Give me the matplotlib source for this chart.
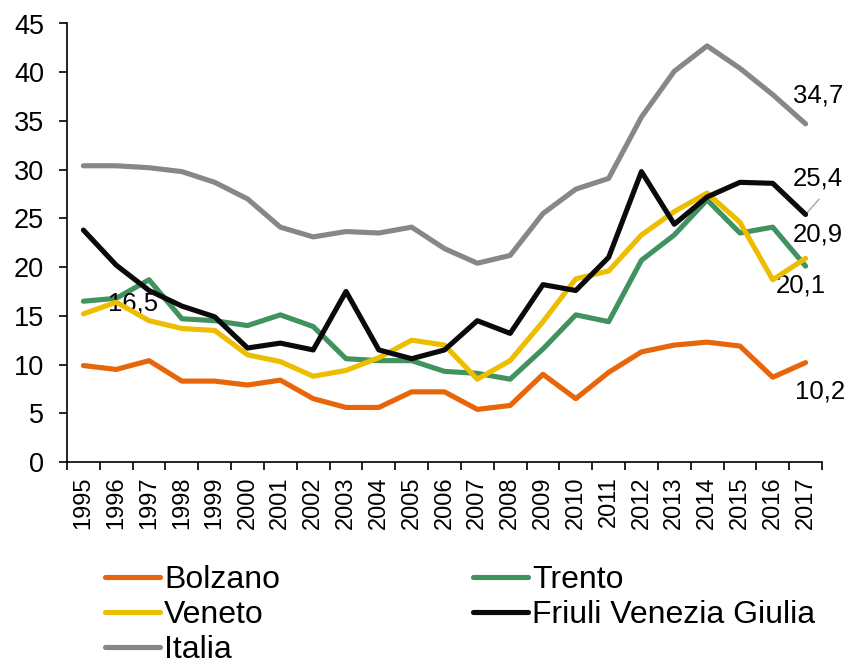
import matplotlib
matplotlib.use("Agg")
import matplotlib.pyplot as plt
import numpy as np

plt.rcParams["font.family"] = ["Liberation Sans", "DejaVu Sans"]

# ── Data ──────────────────────────────────────────────────────────────────────
years = [str(y) for y in range(1995, 2018)]

bolzano = [9.9, 9.5, 10.4, 8.3, 8.3, 7.9, 8.4, 6.5, 5.6, 5.6, 7.2, 7.2,
           5.4, 5.8, 9.0, 6.5, 9.2, 11.3, 12.0, 12.3, 11.9, 8.7, 10.2]
trento = [16.5, 16.8, 18.7, 14.7, 14.5, 14.0, 15.1, 13.9, 10.6, 10.4, 10.4, 9.3,
          9.1, 8.5, 11.6, 15.1, 14.4, 20.7, 23.3, 26.9, 23.5, 24.1, 20.1]
veneto = [15.2, 16.4, 14.5, 13.7, 13.5, 11.0, 10.3, 8.8, 9.4, 10.7, 12.5, 12.0,
          8.5, 10.4, 14.4, 18.8, 19.6, 23.3, 25.7, 27.6, 24.6, 18.7, 20.9]
fvg = [23.8, 20.2, 17.6, 16.0, 14.9, 11.7, 12.2, 11.5, 17.5, 11.5, 10.6, 11.5,
       14.5, 13.2, 18.2, 17.6, 21.0, 29.8, 24.4, 27.2, 28.7, 28.6, 25.4]
italia = [30.4, 30.4, 30.2, 29.8, 28.7, 27.0, 24.1, 23.1, 23.65, 23.5, 24.1, 21.9,
          20.4, 21.2, 25.5, 28.0, 29.1, 35.4, 40.1, 42.7, 40.4, 37.7, 34.7]

series = [
    ("Bolzano", bolzano, "#E8650A"),
    ("Veneto", veneto, "#EDBD00"),
    ("Italia", italia, "#878787"),
    ("Trento", trento, "#41925F"),
    ("Friuli Venezia Giulia", fvg, "#0A0A0A"),
]
z_order = {"Italia": 2, "Bolzano": 3, "Trento": 3, "Veneto": 4,
           "Friuli Venezia Giulia": 5}

# ── Figure ────────────────────────────────────────────────────────────────────
fig = plt.figure(figsize=(8.52, 6.65), dpi=100)
ax = fig.add_axes([67 / 852, 1 - 462 / 665, (822 - 67) / 852, (462 - 23.5) / 665])

x = np.arange(len(years))
handles = []
for name, vals, col in series:
    ln, = ax.plot(x, vals, color=col, lw=3.7, solid_capstyle="round",
                  solid_joinstyle="round", label=name, zorder=z_order[name])
    handles.append(ln)

ax.set_xlim(-0.5, len(years) - 0.5)
ax.set_ylim(0, 45)
ax.set_yticks(range(0, 46, 5))
ax.tick_params(axis="y", labelsize=19.5, length=5.5, width=1.2, pad=11)

# tick marks between categories, labels at category centres
ax.set_xticks(np.arange(-0.5, len(years), 1))
ax.set_xticklabels([])
ax.set_xticks(x, minor=True)
ax.set_xticklabels(years, minor=True, rotation=90, fontsize=17)
ax.tick_params(axis="x", which="major", length=5.5, width=1.2, direction="out")
ax.tick_params(axis="x", which="minor", length=0, pad=10.5)

for s in ["top", "right"]:
    ax.spines[s].set_visible(False)
for s in ["left", "bottom"]:
    ax.spines[s].set_linewidth(1.2)

# ── Value labels ──────────────────────────────────────────────────────────────
lab_kw = dict(fontsize=18.5, ha="left", va="center", clip_on=False)
ax.text(21.61, 37.6, "34,7", **lab_kw)
ax.text(21.61, 29.1, "25,4", **lab_kw)
ax.text(21.61, 23.3, "20,9", **lab_kw)
ax.text(21.09, 18.1, "20,1", **lab_kw)
ax.text(21.67, 7.2, "10,2", **lab_kw)
ax.text(0.76, 16.3, "16,5", **lab_kw)
ax.annotate("", xy=(22, fvg[-1]), xytext=(22.47, 27.2),
            arrowprops=dict(arrowstyle="-", color="#A6A6A6", lw=1),
            annotation_clip=False)

# ── Legend ────────────────────────────────────────────────────────────────────
fig.legend(handles=handles, loc="upper left", bbox_to_anchor=(105 / 852, 1 - 565 / 665),
           ncol=2, frameon=False, fontsize=23, handlelength=1.72,
           handletextpad=0.13, labelspacing=0.16, columnspacing=6.05,
           borderpad=0, borderaxespad=0)

fig.savefig("out.png", dpi=100)
